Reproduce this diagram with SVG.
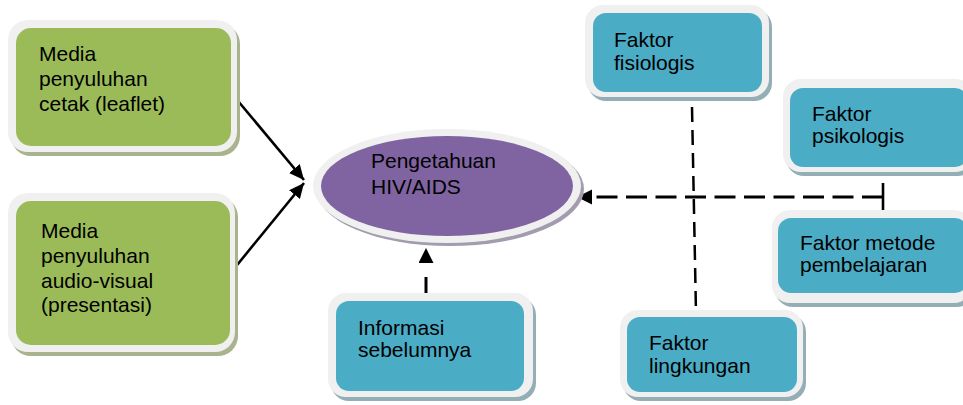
<svg xmlns="http://www.w3.org/2000/svg" width="963" height="405" viewBox="0 0 963 405">
<style>
  text { font-family: "Liberation Sans", Arial, sans-serif; font-size: 21px; fill: #000; }
  .frame { fill: #F0F0F0; }
  .sh-g { fill: #A9B38E; }
  .sh-t { fill: #93AEB5; }
  .sh-p { fill: #A39CAE; }
  .green { fill: #9BBB59; }
  .teal { fill: #4BACC6; }
  .purple { fill: #8064A2; }
  .conn { fill: none; stroke: #000; }
  .solid { stroke-width: 2.6; }
  .dash { stroke-width: 3; stroke-dasharray: 21 8.5; }
  .vdash { stroke-width: 2.5; stroke-dasharray: 15 8; }
</style>
<defs>
  <marker id="arr" markerUnits="userSpaceOnUse" markerWidth="16" markerHeight="16" refX="15" refY="7" orient="auto">
    <path d="M0,0 L15,7 L0,14 Z" fill="#000"/>
  </marker>
  <marker id="arrb" markerUnits="userSpaceOnUse" markerWidth="16" markerHeight="16" refX="0" refY="7.5" orient="auto">
    <path d="M0,0 L15,7.5 L0,15 Z" fill="#000"/>
  </marker>
</defs>

<g id="connectors">
  <line class="conn solid" x1="233" y1="95" x2="304" y2="180" marker-end="url(#arr)"/>
  <line class="conn solid" x1="233" y1="270" x2="304" y2="183" marker-end="url(#arr)"/>
  <line class="conn dash" x1="426" y1="298" x2="426" y2="263" style="stroke-dasharray:21 15" marker-end="url(#arrb)"/>
  <line class="conn dash" x1="883" y1="197" x2="592" y2="197" marker-end="url(#arrb)"/>
  <line class="conn solid" x1="883" y1="183" x2="883" y2="213"/>
  <line class="conn vdash" x1="692" y1="107" x2="696" y2="313"/>
</g>

<g id="media-cetak">
  <rect class="sh-g" x="11" y="24" width="229" height="132" rx="20"/>
  <rect class="frame" x="8" y="20" width="229" height="132" rx="20"/>
  <rect class="green" x="16" y="28" width="215" height="118" rx="15"/>
  <text x="39" y="61">Media</text>
  <text x="39" y="86">penyuluhan</text>
  <text x="39" y="111">cetak (leaflet)</text>
</g>

<g id="media-audio">
  <rect class="sh-g" x="11" y="197" width="227" height="159" rx="20"/>
  <rect class="frame" x="8" y="193" width="227" height="159" rx="20"/>
  <rect class="green" x="16" y="201" width="214" height="144" rx="15"/>
  <text x="41" y="238">Media</text>
  <text x="41" y="263">penyuluhan</text>
  <text x="41" y="288">audio-visual</text>
  <text x="41" y="312">(presentasi)</text>
</g>

<g id="pengetahuan">
  <ellipse class="sh-p" cx="450" cy="189" rx="134" ry="57"/>
  <ellipse class="frame" cx="447" cy="186" rx="134" ry="57"/>
  <ellipse class="purple" cx="447" cy="186" rx="126" ry="50"/>
  <text x="371" y="168">Pengetahuan</text>
  <text x="371" y="194">HIV/AIDS</text>
</g>

<g id="informasi">
  <rect class="sh-t" x="331" y="297" width="205" height="104" rx="18"/>
  <rect class="frame" x="328" y="293" width="205" height="104" rx="18"/>
  <rect class="teal" x="336" y="301" width="188" height="90" rx="13"/>
  <text x="358" y="335">Informasi</text>
  <text x="358" y="357">sebelumnya</text>
</g>

<g id="fisiologis">
  <rect class="sh-t" x="588" y="9" width="184" height="92" rx="18"/>
  <rect class="frame" x="585" y="5" width="184" height="92" rx="18"/>
  <rect class="teal" x="593" y="13" width="169" height="79" rx="13"/>
  <text x="614" y="47">Faktor</text>
  <text x="614" y="70">fisiologis</text>
</g>

<g id="psikologis">
  <rect class="sh-t" x="786" y="83" width="190" height="93" rx="18"/>
  <rect class="frame" x="783" y="79" width="190" height="93" rx="18"/>
  <rect class="teal" x="790" y="88" width="178" height="79" rx="13"/>
  <text x="812" y="121">Faktor</text>
  <text x="812" y="143">psikologis</text>
</g>

<g id="metode">
  <rect class="sh-t" x="775" y="214" width="200" height="93" rx="18"/>
  <rect class="frame" x="772" y="210" width="200" height="93" rx="18"/>
  <rect class="teal" x="778" y="218" width="190" height="75" rx="13"/>
  <text x="800" y="250">Faktor metode</text>
  <text x="800" y="272">pembelajaran</text>
</g>

<g id="lingkungan">
  <rect class="sh-t" x="623" y="314" width="183" height="87" rx="18"/>
  <rect class="frame" x="620" y="310" width="183" height="87" rx="18"/>
  <rect class="teal" x="627" y="317" width="170" height="75" rx="13"/>
  <text x="649" y="350">Faktor</text>
  <text x="649" y="373">lingkungan</text>
</g>
</svg>
